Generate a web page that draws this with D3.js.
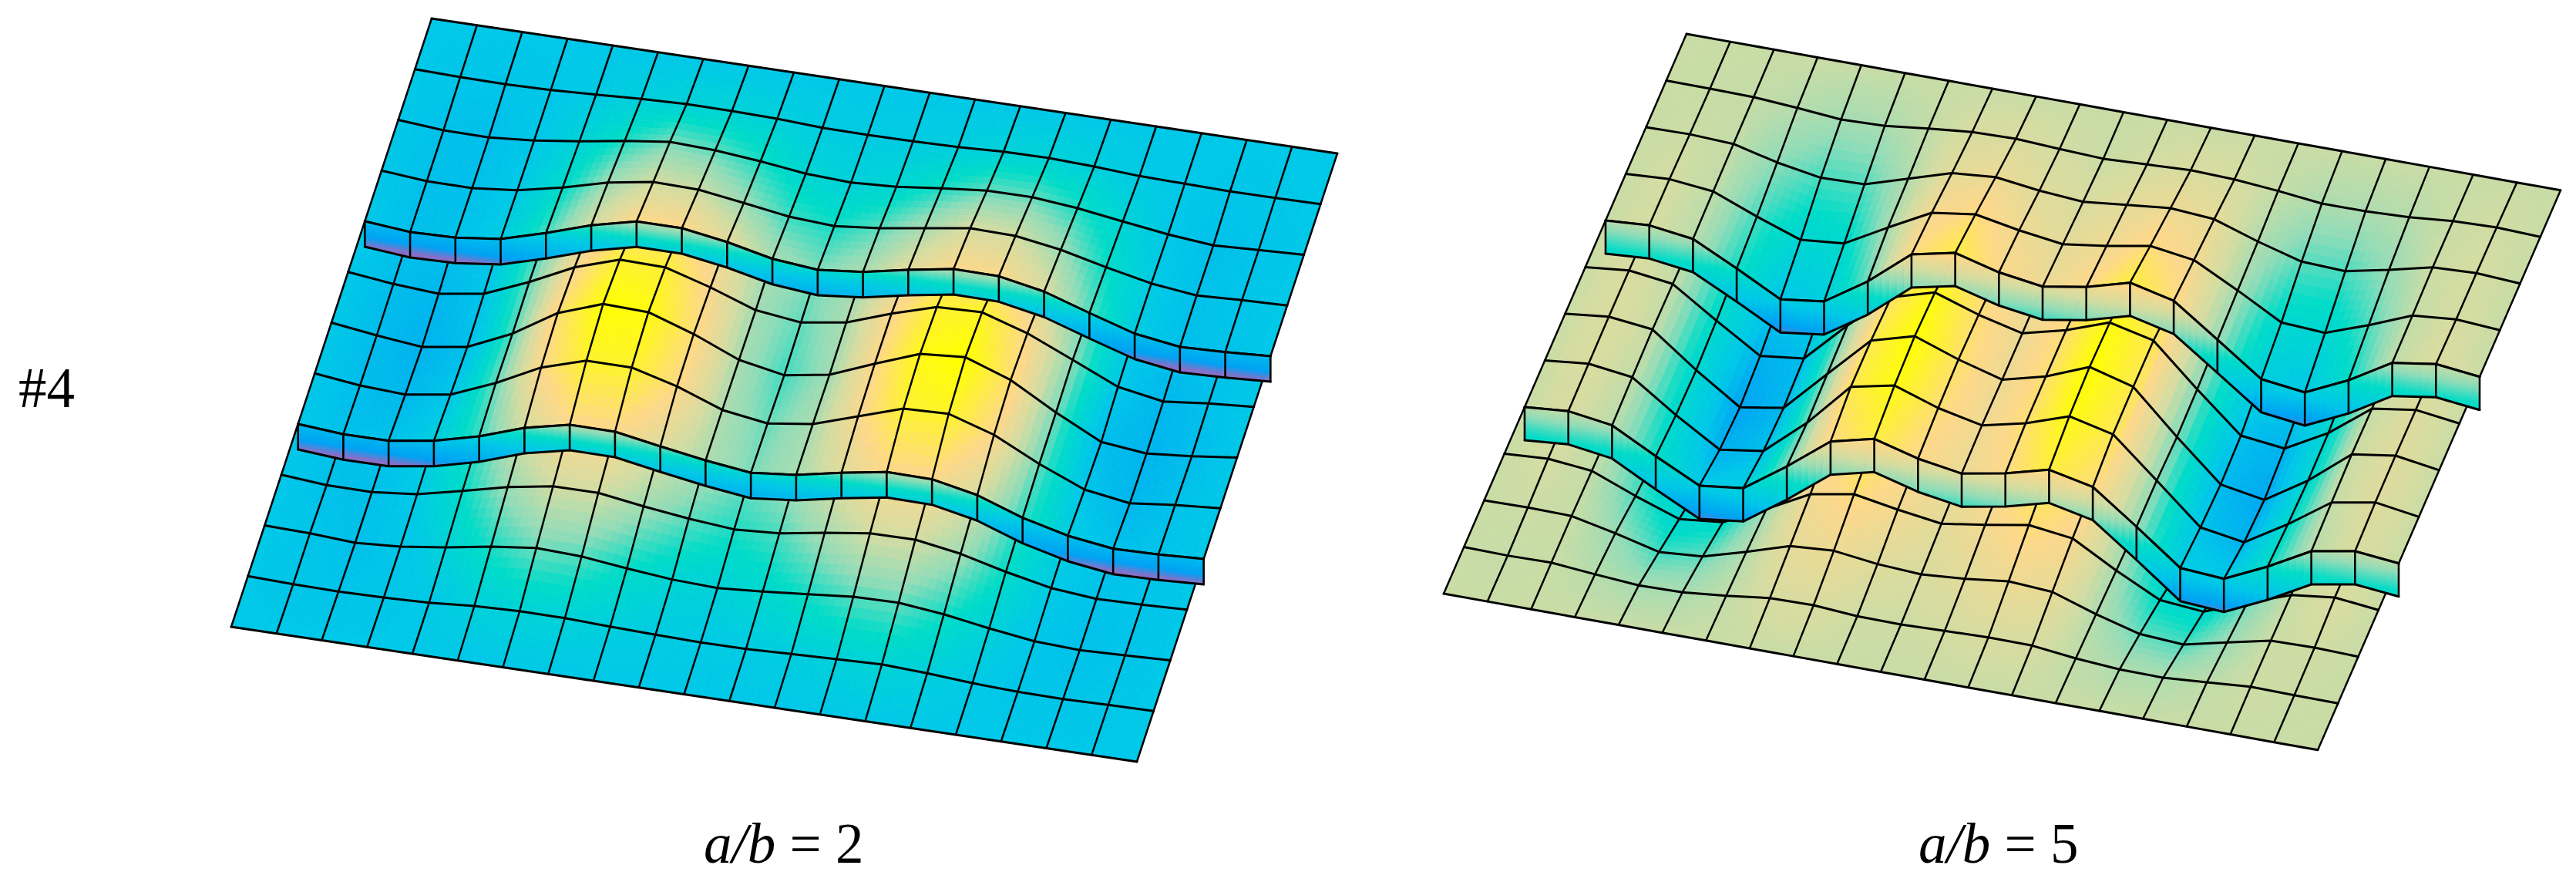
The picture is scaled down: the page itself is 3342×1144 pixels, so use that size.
<!DOCTYPE html>
<html>
<head>
<meta charset="utf-8">
<style>
  html, body { margin: 0; padding: 0; background: #fff; }
  svg { display: block; }
  text { font-family: "Liberation Serif", serif; fill: #000; }
</style>
<script src="https://cdn.jsdelivr.net/npm/d3@7"></script>
</head>
<body>
<div id="chart"></div>
<script>
const width = 3342;
const height = 1144;

// surface height at each mesh node, rows back to front
const leftHeights = [
  [0,0,0,0,0,0,0,0,0,0,0,0,0,0,0,0,0,0,0,0,0],
  [0,-1.5,-2,-0.7,2,5.2,7.2,7,5.7,2.8,2.2,2.7,4,6.8,7.2,5,1.4,0.2,-1,-0.7,0],
  [0,-4.7,-5.3,-0.5,7.2,16.5,24,21.7,16.2,9,6.3,9.4,16.2,22,22.3,16.7,8.2,0.2,-5.3,-2.6,0],
  [0,-5,-5.3,0.8,13,28.3,37.8,36.5,28,19,15.5,21.5,30.3,39,37.8,28.5,14.6,2.3,-4.5,-1.8,0],
  [0,-5.3,-3.8,3.2,19.7,38.5,52.2,52.2,43,30,24.5,30.5,42,51.7,51.2,40,21,3,-5.5,-3.4,0],
  [0,-6.8,-10.7,-2,22,49.8,68.5,67.3,50,29.2,22,30.7,51,68.2,70.2,51.7,26,-0.2,-10.5,-4.3,0],
  [0,-7.8,-14,-5.3,20.8,56.3,76.7,74.8,55.2,30.5,19.3,28.8,51.8,73.3,77.7,56.8,23.5,-6,-12.3,-7,0],
  [0,-7,-10,-1.2,22.5,51.3,69,68.8,53.2,31.3,22.5,30.5,49.2,68,70,51.5,22.5,-2,-11,-4.5,0],
  [0,-4.5,-4.2,4.5,19,38.8,51.5,51.3,41,31.5,24.2,30.3,41.7,51.5,50.8,39,18.3,3.8,-4.2,-3,0],
  [0,-4.8,-5,1,14,27.8,37.5,37.7,29,21.8,16.6,20.3,29.7,37.8,38.2,28.7,14,1.8,-3.5,-2.3,0],
  [0,-1.5,-5,-1.3,6.5,16.3,23.3,21,14.2,8.6,6.3,10.5,15.8,21.3,22.3,16,6.5,-1.5,-4.3,-2.3,0],
  [0,-1.7,-2.5,-1.5,0.5,5,7,6.8,4.5,2.7,1.5,1.8,4,6,8,5.2,1.2,-1.3,-2,-0.8,0],
  [0,0,0,0,0,0,0,0,0,0,0,0,0,0,0,0,0,0,0,0,0]
];

const rightHeights = [
  [0,0,0,0,0,0,0,0,0,0,0,0,0,0,0,0,0,0,0,0,0],
  [0,-0.4,-1.2,-5,-10,-8,-1.4,4.3,5.6,2.5,0,2.7,5.5,3.6,-1.2,-7.4,-7.3,-4.8,0.3,2.2,0],
  [0,1,-1.4,-15.3,-25,-23.3,-5.9,11.5,16.4,9,4.7,10.8,16.7,12.5,-6.3,-22.2,-24.5,-12.6,0.8,3.4,0],
  [0,3.3,-2.5,-25,-45,-39.5,-8.7,20.5,28.6,18,10.2,18,28.2,20,-9.2,-40.7,-44,-23.8,-1.3,3.9,0],
  [0,3.8,-3.7,-31.9,-61.7,-54.3,-18.2,27,39,24,15.7,25.2,41,27.8,-12.7,-53.6,-60.8,-34.9,-2.2,6.4,0],
  [0,5.9,-1.5,-39,-74.6,-67.8,-14.7,32,48.3,29.5,15.6,29.7,49.9,36.6,-16.5,-66.4,-73,-42.8,-1,7.5,0],
  [0,6.4,0,-42.6,-80.7,-71.3,-17.2,36.3,52.1,32,16,30.2,52.7,37.1,-17.7,-69.2,-79.1,-43.9,0.2,8.7,0],
  [0,5.9,-1.5,-40.4,-75.2,-66.8,-20,36.8,48.6,29.5,17.2,30,49.2,36,-13.8,-64.4,-73.6,-40.1,-1.7,8.5,0],
  [0,4.8,-3.4,-33.3,-61.4,-54.6,-16.2,26.3,39.8,24.3,15.1,25.5,40.4,28.1,-13.3,-56.6,-60.5,-34.6,-4.5,5.7,0],
  [0,3.6,-1.9,-24.4,-44.2,-38,-10.7,18.5,28.6,18.8,10.6,19.3,29.2,22,-9.5,-37.7,-42.6,-20.8,-0.7,6.2,0],
  [0,0.8,0,-12.3,-26.4,-22,-5.9,11.7,15.8,8.6,5.4,9.8,16.7,13.1,-5.7,-21.2,-24.8,-11.9,0.5,1.7,0],
  [0,-1,0,-5,-9.2,-8,-2.4,4.8,5.6,1.5,0.9,2.7,4.5,4,-2.5,-6.7,-7.3,-3.1,1.3,0.5,0],
  [0,0,0,0,0,0,0,0,0,0,0,0,0,0,0,0,0,0,0,0,0]
];

const ribRows = [4, 8];
const colorRamp = ["#8a6fc8", "#00a2f4", "#00c8e8", "#00dcc8", "#90dcb8", "#d4dca2", "#fdd88a", "#ffff00"];
const leftLevels = [-33, -24, 0, 14, 26, 38, 52, 77];
const rightLevels = [-95, -82, -62, -35, -15, 3, 25, 52];

const panels = [
  {
    heights: leftHeights, levels: leftLevels,
    origin: [560, 24], colStep: [58.75, 8.75], rowStep: [-21.67, 65.75],
    ribDepth: 33,
    ribTop: z => 0.75 * z - 8,
    ribBottom: z => 0.72 * z - 33
  },
  {
    heights: rightHeights, levels: rightLevels,
    origin: [2188, 44], colStep: [56.7, 10.14], rowStep: [-26.25, 60.5],
    ribDepth: 43,
    ribTop: z => 0.85 * z - 5,
    ribBottom: z => 0.8 * z - 40
  }
];

const labels = [
  {parts: ["#4"], x: 24, y: 528},
  {parts: ["a/b", " = 2"], x: 913, y: 1119},
  {parts: ["a/b", " = 5"], x: 2489, y: 1119}
];

const STEPS = 6; // sub-cells per mesh cell for the shading
const RIB_STEPS = 12;

const svg = d3.select("#chart").append("svg")
  .attr("width", width)
  .attr("height", height);

function drawPanel(p) {
  const nRows = p.heights.length;
  const nCols = p.heights[0].length;

  const xOfCol = d3.scaleLinear([0, nCols - 1], [0, p.colStep[0] * (nCols - 1)]);
  const xOfRow = d3.scaleLinear([0, nRows - 1], [0, p.rowStep[0] * (nRows - 1)]);
  const yOfCol = d3.scaleLinear([0, nCols - 1], [0, p.colStep[1] * (nCols - 1)]);
  const yOfRow = d3.scaleLinear([0, nRows - 1], [0, p.rowStep[1] * (nRows - 1)]);
  const color = d3.scaleLinear().domain(p.levels).range(colorRamp).clamp(true);

  const px = (r, c) => p.origin[0] + xOfCol(c) + xOfRow(r);
  const py = (r, c, z) => p.origin[1] + yOfCol(c) + yOfRow(r) - z;

  // bilinear height inside a cell
  function heightAt(r, c) {
    const r0 = Math.min(Math.floor(r), nRows - 2);
    const c0 = Math.min(Math.floor(c), nCols - 2);
    const u = r - r0, v = c - c0;
    return p.heights[r0][c0] * (1 - u) * (1 - v) + p.heights[r0][c0 + 1] * (1 - u) * v +
      p.heights[r0 + 1][c0] * u * (1 - v) + p.heights[r0 + 1][c0 + 1] * u * v;
  }

  const g = svg.append("g");

  const patches = [];
  d3.range(0, (nRows - 1) * STEPS).forEach(a => {
    d3.range(0, (nCols - 1) * STEPS).forEach(b => {
      const r = a / STEPS, c = b / STEPS, d = 1 / STEPS;
      const corners = [[r, c], [r, c + d], [r + d, c + d], [r + d, c]]
        .map(([rr, cc]) => [px(rr, cc), py(rr, cc, heightAt(rr, cc))]);
      patches.push({corners, fill: color(heightAt(r + d / 2, c + d / 2))});
    });
  });

  const poly = d3.line();

  g.append("g").selectAll("path")
    .data(patches)
    .join("path")
    .attr("d", d => poly(d.corners) + "Z")
    .attr("fill", d => d.fill)
    .attr("stroke", d => d.fill)
    .attr("stroke-width", 0.7);

  const meshLine = d3.line().x(d => d[0]).y(d => d[1]);
  const lines = g.append("g")
    .attr("fill", "none")
    .attr("stroke", "#000")
    .attr("stroke-linejoin", "round")
    .attr("stroke-linecap", "round");

  // column lines
  d3.range(nCols).forEach(c => {
    lines.append("path")
      .attr("d", meshLine(d3.range(nRows).map(r => [px(r, c), py(r, c, p.heights[r][c])])))
      .attr("stroke-width", 2.5);
  });
  // row lines
  d3.range(nRows).forEach(r => {
    lines.append("path")
      .attr("d", meshLine(d3.range(nCols).map(c => [px(r, c), py(r, c, p.heights[r][c])])))
      .attr("stroke-width", 3);
  });

  // ribs hang straight down from their row and cover what is behind them
  ribRows.forEach(r => {
    const rib = g.append("g");
    const strips = [];
    d3.range(0, (nCols - 1) * STEPS).forEach(b => {
      const c = b / STEPS, d = 1 / STEPS;
      const zA = heightAt(r, c), zB = heightAt(r, c + d), zMid = heightAt(r, c + d / 2);
      const shade = d3.scaleLinear([0, RIB_STEPS], [p.ribTop(zMid), p.ribBottom(zMid)]);
      const depth = d3.scaleLinear([0, RIB_STEPS], [0, p.ribDepth]);
      d3.range(RIB_STEPS).forEach(k => {
        strips.push({
          corners: [
            [px(r, c), py(r, c, zA) + depth(k)],
            [px(r, c + d), py(r, c + d, zB) + depth(k)],
            [px(r, c + d), py(r, c + d, zB) + depth(k + 1)],
            [px(r, c), py(r, c, zA) + depth(k + 1)]
          ],
          fill: color(shade(k + 0.5))
        });
      });
    });
    rib.selectAll("path")
      .data(strips)
      .join("path")
      .attr("d", d => poly(d.corners) + "Z")
      .attr("fill", d => d.fill)
      .attr("stroke", d => d.fill)
      .attr("stroke-width", 0.7);

    const ribLines = g.append("g")
      .attr("fill", "none")
      .attr("stroke", "#000")
      .attr("stroke-linejoin", "round")
      .attr("stroke-linecap", "round");
    d3.range(nCols).forEach(c => {
      const top = py(r, c, p.heights[r][c]);
      ribLines.append("path")
        .attr("d", meshLine([[px(r, c), top], [px(r, c), top + p.ribDepth]]))
        .attr("stroke-width", 2.6);
    });
    [0, p.ribDepth].forEach(offset => {
      ribLines.append("path")
        .attr("d", meshLine(d3.range(nCols).map(c => [px(r, c), py(r, c, p.heights[r][c]) + offset])))
        .attr("stroke-width", 3);
    });
  });
}

panels.forEach(drawPanel);

labels.forEach(l => {
  const t = svg.append("text")
    .attr("x", l.x)
    .attr("y", l.y)
    .attr("font-size", 73)
    .attr("xml:space", "preserve")
    .style("white-space", "pre");
  l.parts.forEach(part => {
    t.append("tspan")
      .attr("font-style", part.startsWith("a/") ? "italic" : "normal")
      .text(part);
  });
});
</script>
</body>
</html>
